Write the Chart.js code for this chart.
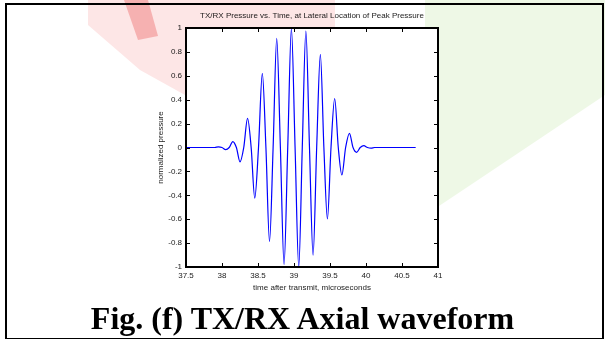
<!DOCTYPE html>
<html>
<head>
<meta charset="utf-8">
<script src="https://cdn.jsdelivr.net/npm/chart.js@4.4.1/dist/chart.umd.min.js"></script>
<style>
  html, body { margin: 0; padding: 0; background: #fff; }
  #page { position: relative; width: 605px; height: 339px; overflow: hidden; background: #fff; }
  #wrap { position: absolute; left: 0; top: 0; width: 605px; height: 339px; z-index: 1; }
  .wm { position: absolute; left: 0; top: 0; width: 605px; height: 339px; z-index: 2; mix-blend-mode: multiply; pointer-events: none; }
  #pink { background: #fde6e6; clip-path: polygon(88px 0, 335px 0, 335px 27px, 185px 27px, 185px 95px, 140px 70px, 88px 25px); }
  #red { background: #f8c4c4; clip-path: polygon(124px 0, 148px 0, 158px 36px, 138px 40px); }
  #green { background: #eef8e6; clip-path: polygon(425px 0, 605px 0, 605px 95px, 478px 180px, 439px 206px, 439px 27px, 425px 27px); }
  #frame { position: absolute; left: 5px; top: 3px; width: 599px; height: 337px; box-sizing: border-box; border: 2px solid #000; z-index: 3; }
  .cap { position: absolute; left: 0; width: 605px; text-align: center; font-family: "Liberation Serif", "Times New Roman", serif; font-weight: bold; font-size: 32px; line-height: 32px; color: #000; white-space: nowrap; z-index: 4; }
  #prev { top: -35px; }
  #cap { top: 302px; }
  #axbox { position: absolute; box-sizing: border-box; border: 2px solid #000; z-index: 3; pointer-events: none; }
  .tk { position: absolute; background: #000; z-index: 3; }
</style>
</head>
<body>
<div id="page">
  <div id="wrap"><canvas id="c" width="605" height="339"></canvas></div>
  <div class="wm" id="pink"></div>
  <div class="wm" id="red"></div>
  <div class="wm" id="green"></div>
  <div id="frame"></div>
  <div id="axbox"></div>
  <div class="cap" id="prev">Fig. (e) TX/RX Axial beam profile</div>
  <div class="cap" id="cap">Fig. (f) TX/RX Axial waveform</div>
</div>
<script>
// ---- data ----
const timeUs = [37.5, 37.9, 37.95, 38.0, 38.05, 38.1, 38.15, 38.2, 38.25, 38.302, 38.355, 38.405, 38.455, 38.507, 38.56, 38.61, 38.66, 38.71, 38.76, 38.811, 38.862, 38.913, 38.964, 39.015, 39.066, 39.115, 39.165, 39.215, 39.265, 39.315, 39.366, 39.415, 39.464, 39.514, 39.565, 39.615, 39.665, 39.717, 39.77, 39.82, 39.87, 39.92, 39.97, 40.02, 40.07, 40.12, 40.69];
const pressure = [0, 0, 0.006, 0, -0.018, 0, 0.05, 0, -0.12, 0, 0.244, 0, -0.423, 0, 0.62, 0, -0.788, 0, 0.914, 0, -0.978, 0, 0.997, 0, -1.0, 0, 0.975, 0, -0.9, 0, 0.78, 0, -0.598, 0, 0.41, 0, -0.23, 0, 0.119, 0, -0.04, 0, 0.015, 0, -0.005, 0, 0];
const xTickValues = [37.5, 38, 38.5, 39, 39.5, 40, 40.5, 41];
const xTickLabels = ['37.5', '38', '38.5', '39', '39.5', '40', '40.5', '41'];
const yTickValues = [-1, -0.8, -0.6, -0.4, -0.2, 0, 0.2, 0.4, 0.6, 0.8, 1];
const yTickLabels = ['-1', '-0.8', '-0.6', '-0.4', '-0.2', '0', '0.2', '0.4', '0.6', '0.8', '1'];
const chartTitle = 'TX/RX Pressure vs. Time, at Lateral Location of Peak Pressure';
const xTitle = 'time after transmit, microseconds';
const yTitle = 'normalized pressure';

const FONT = { family: '"Liberation Sans", Arial, Helvetica, sans-serif', size: 8 };
const TXT = '#222';

const chart = new Chart(document.getElementById('c'), {
  type: 'line',
  data: {
    datasets: [{
      data: timeUs.map((t, i) => ({ x: t, y: pressure[i] })),
      borderColor: '#0000ff',
      borderWidth: 1.2,
      pointRadius: 0,
      cubicInterpolationMode: 'monotone',
      fill: false
    }]
  },
  options: {
    responsive: false,
    animation: false,
    events: [],
    layout: { padding: { left: 146, right: 167, top: 0, bottom: 42 } },
    plugins: {
      legend: { display: false },
      tooltip: { enabled: false },
      title: {
        display: true, text: chartTitle, fullSize: false,
        color: TXT, font: { ...FONT, weight: 'normal' },
        padding: { top: 11.2, bottom: 7.2 }
      }
    },
    scales: {
      x: {
        type: 'linear', position: 'bottom', min: 37.5, max: 41,
        grid: { display: false, drawTicks: false }, border: { display: false },
        afterBuildTicks: s => { s.ticks = xTickValues.map(v => ({ value: v })); },
        afterFit: s => { s.height = 30; },
        ticks: { color: TXT, font: FONT, padding: 4, maxRotation: 0, autoSkip: false,
                 callback: (v, i) => xTickLabels[i] },
        title: { display: true, text: xTitle, color: TXT, font: FONT, padding: { top: 0, bottom: 4 } }
      },
      y: {
        type: 'linear', position: 'left', min: -1, max: 1,
        grid: { display: false, drawTicks: false }, border: { display: false },
        afterBuildTicks: s => { s.ticks = yTickValues.map(v => ({ value: v })); },
        afterFit: s => { s.width = 40; },
        ticks: { color: TXT, font: FONT, padding: 4, autoSkip: false,
                 callback: (v, i) => yTickLabels[i] },
        title: { display: true, text: yTitle, color: TXT, font: FONT, padding: { top: 10, bottom: 0 } }
      }
    }
  }
});

// MATLAB-style axes box with inward ticks, positioned from the library's scales
(function drawAxesFrame() {
  const a = chart.chartArea, xs = chart.scales.x, ys = chart.scales.y;
  const page = document.getElementById('page');
  const box = document.getElementById('axbox');
  const L = Math.round(a.left), R = Math.round(a.right), T = Math.round(a.top), B = Math.round(a.bottom);
  box.style.left = (L - 1) + 'px';
  box.style.top = (T - 1) + 'px';
  box.style.width = (R - L + 2) + 'px';
  box.style.height = (B - T + 2) + 'px';
  const TL = 4;
  function tick(x, y, w, h) {
    const d = document.createElement('div');
    d.className = 'tk';
    d.style.left = x + 'px'; d.style.top = y + 'px';
    d.style.width = w + 'px'; d.style.height = h + 'px';
    page.appendChild(d);
  }
  xTickValues.forEach(v => {
    const px = Math.round(xs.getPixelForValue(v));
    tick(px, B - TL, 1, TL);
    tick(px, T, 1, TL);
  });
  yTickValues.forEach(v => {
    const py = Math.round(ys.getPixelForValue(v));
    tick(L, py, TL, 1);
    tick(R - TL, py, TL, 1);
  });
})();
</script>
</body>
</html>
